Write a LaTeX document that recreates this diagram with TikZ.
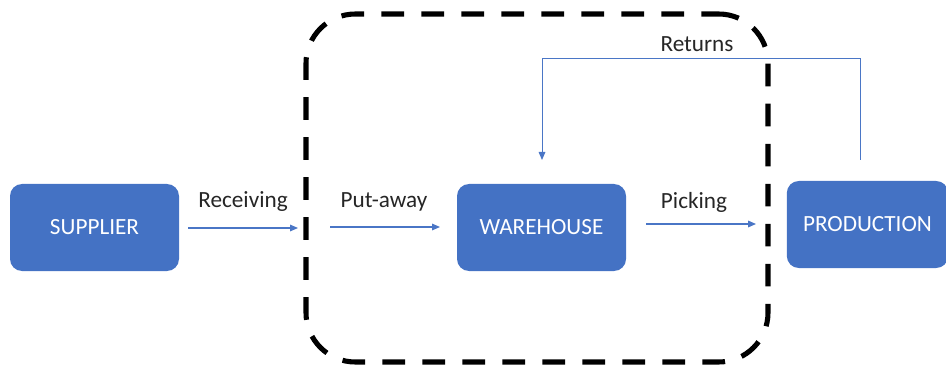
\documentclass[tikz,border=0pt]{standalone}
\usepackage{fontspec}
\setmainfont{Carlito}
\usetikzlibrary{arrows.meta,calc}
\definecolor{boxblue}{HTML}{4472C4}
\definecolor{linkblue}{HTML}{4A76C6}
\definecolor{labelgray}{HTML}{262626}
\tikzset{
  stage/.style={draw=none, fill=boxblue, rounded corners=9pt,
    minimum height=65.25pt, inner sep=0pt, text=white,
    font=\fontsize{17.4}{20}\selectfont},
  flow/.style={draw=linkblue, line width=0.8pt,
    -{Triangle[length=6pt,width=5pt]}},
  flowlabel/.style={text=labelgray, inner sep=0pt,
    font=\fontsize{17.4}{20}\selectfont},
  zone/.style={draw=black, line width=3.8pt, rounded corners=37pt,
    dash pattern=on 17pt off 13pt, dash phase=4pt,
    minimum width=346.5pt, minimum height=261pt, inner sep=0pt}
}
\begin{document}
\begin{tikzpicture}[x=0.75pt,y=-0.75pt]
  \useasboundingbox (0,0) rectangle (946,367);

  % warehouse boundary
  \node[zone] (zone) at (537,188) {};

  % stages
  \node[stage, minimum width=126.75pt] (sup)  at (94.5,227.5) {SUPPLIER};
  \node[stage, minimum width=126.75pt] (wh)   at (541.5,227.5) {WAREHOUSE};
  \node[stage, minimum width=121pt]    (prod) at (867.5,224.5) {PRODUCTION};

  % flow end points
  \coordinate (rcvA) at (188,228);
  \coordinate (rcvB) at (298,228);
  \coordinate (putA) at (330,227);
  \coordinate (putB) at (440,227);
  \coordinate (pckA) at (646,224);
  \coordinate (pckB) at (756,224);
  \coordinate (retA) at (860,160);
  \coordinate (retB) at (542,160);

  % flows
  \draw[flow] (rcvA) -- (rcvB);
  \draw[flow] (putA) -- (putB);
  \draw[flow] (pckA) -- (pckB);
  \draw[flow, line width=0.7pt] (retA) -- (860,58) -- (542,58) -- (retB);

  % labels
  \node[flowlabel] (lrcv) at (243,202) {Receiving};
  \node[flowlabel] (lput) at (384,202) {Put-away};
  \node[flowlabel] (lpck) at (694,202) {Picking};
  \node[flowlabel] (lret) at (697,44)  {Returns};
\end{tikzpicture}
\end{document}
